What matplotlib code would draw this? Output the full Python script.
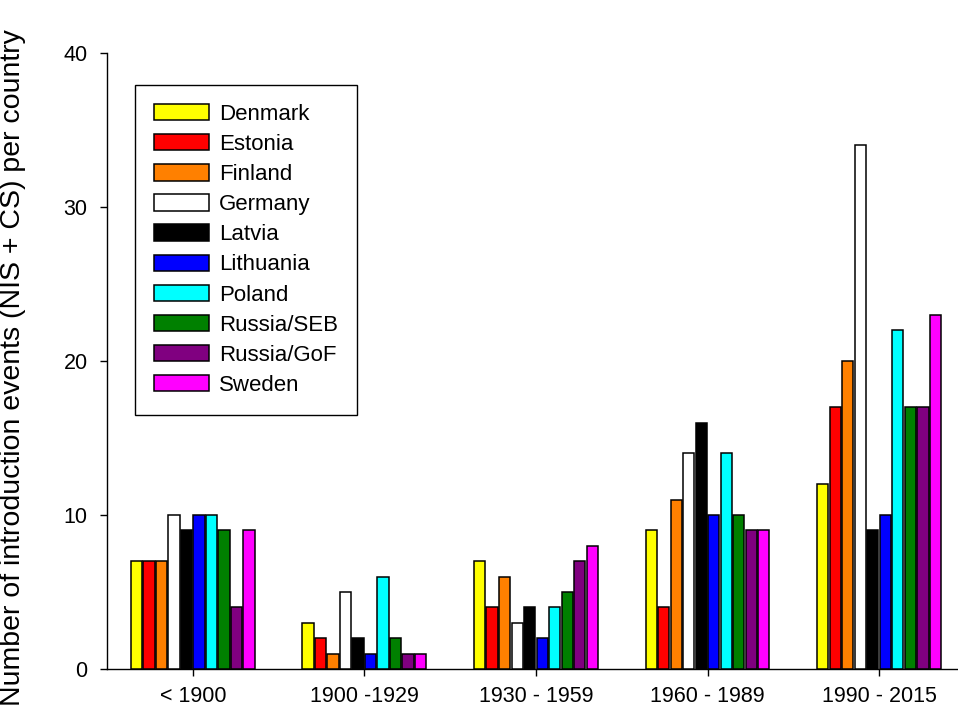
import matplotlib
matplotlib.use("Agg")
import matplotlib.pyplot as plt
import numpy as np

plt.rcParams["font.family"] = ["Liberation Sans", "DejaVu Sans"]

# Periodos (eixo x) e paises (series)
periodos = ["< 1900", "1900 -1929", "1930 - 1959", "1960 - 1989", "1990 - 2015"]
paises = ["Denmark", "Estonia", "Finland", "Germany", "Latvia",
          "Lithuania", "Poland", "Russia/SEB", "Russia/GoF", "Sweden"]
cores = ["#FFFF00", "#FF0000", "#FF8000", "#FFFFFF", "#000000",
         "#0000FF", "#00FFFF", "#008000", "#800080", "#FF00FF"]

denmark = [7, 3, 7, 9, 12]
estonia = [7, 2, 4, 4, 17]
finland = [7, 1, 6, 11, 20]
germany = [10, 5, 3, 14, 34]
latvia = [9, 2, 4, 16, 9]
lithuania = [10, 1, 2, 10, 10]
poland = [10, 6, 4, 14, 22]
russia_seb = [9, 2, 5, 10, 17]
russia_gof = [4, 1, 7, 9, 17]
sweden = [9, 1, 8, 9, 23]

series = [denmark, estonia, finland, germany, latvia,
          lithuania, poland, russia_seb, russia_gof, sweden]

fig = plt.figure(figsize=(9.58, 7.13), dpi=100)
ax = fig.add_axes([107 / 958, 44 / 713, 851 / 958, 616 / 713])

x = np.arange(len(periodos))
passo = 0.0729
largura = 0.066

for i, (valores, nome, cor) in enumerate(zip(series, paises, cores)):
    ax.bar(x + (i - 4.5) * passo, valores, width=largura, color=cor,
           edgecolor="black", linewidth=1.1, label=nome, zorder=3)

ax.set_xlim(-0.5, 4.46)
ax.set_ylim(0, 40)
ax.set_yticks([0, 10, 20, 30, 40])
ax.set_xticks(x)
ax.set_xticklabels(periodos)

for lado in ["top", "right"]:
    ax.spines[lado].set_visible(False)
for lado in ["left", "bottom"]:
    ax.spines[lado].set_linewidth(1.0)
    ax.spines[lado].set_color("black")

ax.tick_params(axis="y", direction="out", length=5, width=1.0, pad=9, labelsize=15.5)
ax.tick_params(axis="x", direction="out", length=5, width=1.0, pad=7, labelsize=15.5)

ax.set_ylabel("Number of introduction events (NIS + CS) per country", fontsize=20.5)
ax.yaxis.set_label_coords(-0.095, 0.49)

leg = ax.legend(loc="upper left", bbox_to_anchor=(28 / 851, 1 - 32 / 616),
                borderaxespad=0, fontsize=16, frameon=True, fancybox=False,
                framealpha=1, edgecolor="black", handlelength=2.48,
                handleheight=0.75, handletextpad=0.45, labelspacing=0.41,
                borderpad=0.85)
leg.get_frame().set_linewidth(1.0)

fig.savefig("out.png", dpi=100)
